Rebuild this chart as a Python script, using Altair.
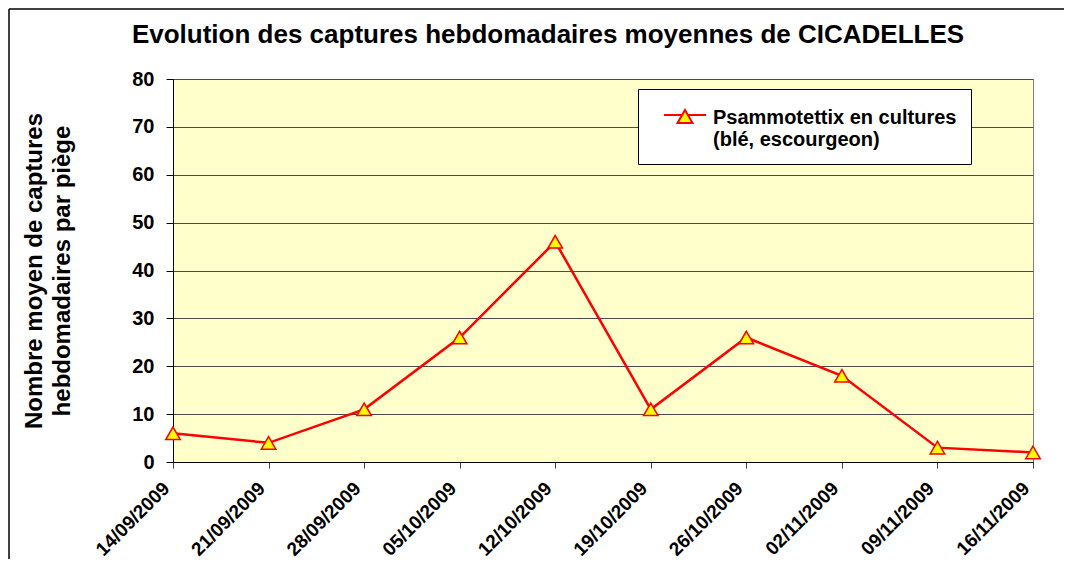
import altair as alt
import pandas as pd

dates = ["14/09/2009", "21/09/2009", "28/09/2009", "05/10/2009", "12/10/2009",
         "19/10/2009", "26/10/2009", "02/11/2009", "09/11/2009", "16/11/2009"]
values = [6, 4, 11, 26, 46, 11, 26, 18, 3, 2]
series_name = "Psammotettix en cultures"
y_ticks = [0, 10, 20, 30, 40, 50, 60, 70, 80]
title_text = "Evolution des captures hebdomadaires moyennes de CICADELLES"
y_title = ["Nombre moyen de captures", "hebdomadaires par piège"]

FONT = "Liberation Sans"

df = pd.DataFrame({"date": dates, "value": values, "serie": [series_name] * len(dates)})

x_enc = alt.X(
    "date:O", sort=dates,
    scale=alt.Scale(type="point", padding=0),
    axis=alt.Axis(
        title=None, labelAngle=315, labelAlign="right", labelBaseline="middle",
        labelOffset=-7, labelPadding=17, tickSize=6, tickColor="#404040",
        domainColor="#000000", labelFont=FONT, labelFontSize=19,
        labelFontWeight="bold", labelColor="#000000", grid=False, labelLimit=300,
    ),
)
y_enc = alt.Y(
    "value:Q",
    scale=alt.Scale(domain=[0, 80], nice=False),
    axis=alt.Axis(
        values=y_ticks, title=y_title, titleFont=FONT, titleFontSize=24,
        titleFontWeight="bold", titleColor="#000000", titleAngle=270,
        titleX=-139, titleY=191.5, titleBaseline="middle", titleAlign="center",
        titleLineHeight=28,
        grid=True, gridColor="#4a4a4a", gridWidth=1,
        domainColor="#000000", tickColor="#000000", tickSize=7,
        labelFont=FONT, labelFontSize=20, labelFontWeight="bold",
        labelColor="#000000", labelPadding=12,
    ),
)

frame_df = pd.DataFrame({"k": [0]})
frame_top = alt.Chart(frame_df).mark_rule(color="#000000", strokeWidth=1.5).encode(
    x=alt.value(-164), x2=alt.value(891), y=alt.value(-70)
)
frame_left = alt.Chart(frame_df).mark_rule(color="#000000", strokeWidth=1.5).encode(
    x=alt.value(-164), y=alt.value(-70), y2=alt.value(482)
)

line = alt.Chart(df).mark_line(color="#FF0000", strokeWidth=2.5).encode(x=x_enc, y=y_enc)

sym_path = "M-0.45,-0.45H0.456M0.744,-0.45H1.65M0.6,-0.7L0.975,-0.05L0.225,-0.05Z"

pts = alt.Chart(df).mark_point(
    shape="triangle-up", filled=True, fill="#FFFF00", size=210,
    strokeWidth=1.5, opacity=1,
).encode(
    x=x_enc, y=y_enc,
    stroke=alt.Stroke(
        "serie:N", scale=alt.Scale(range=["#FF0000"]),
        legend=alt.Legend(
            orient="none", legendX=465, legendY=10, title=None,
            fillColor="#FFFFFF", strokeColor="#000000", padding=14,
            symbolType=sym_path, symbolSize=1600, symbolStrokeWidth=2,
            symbolFillColor="#FFFF00", symbolStrokeColor="#FF0000",
            labelFont=FONT, labelFontSize=20, labelFontWeight="bold",
            labelColor="#000000", labelOffset=19, labelBaseline="alphabetic",
            labelLimit=500,
            labelExpr="['Psammotettix en cultures', '(blé, escourgeon)']",
        ),
    ),
)

chart = alt.layer(frame_top, frame_left, line, pts).properties(
    width=860, height=383,
    title=alt.TitleParams(
        text=title_text, font=FONT, fontSize=26, fontWeight="bold",
        color="#000000", anchor="middle", dx=-55, offset=0, dy=40,
    ),
    autosize=alt.AutoSizeParams(type="none"),
    padding={"left": 165, "top": 71, "right": 31, "bottom": 97},
    background="#FFFFFF",
).configure_view(fill="#FFFFCC", stroke="#808080", strokeWidth=1)

chart.save("out.html", embed_options={"renderer": "svg", "actions": False})
